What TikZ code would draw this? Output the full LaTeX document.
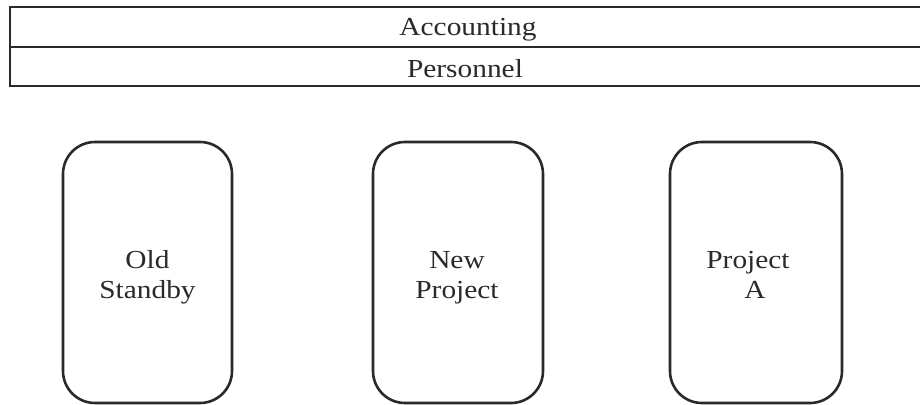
\documentclass[tikz,border=0pt]{standalone}
\usepackage{fontspec}
\setmainfont{Liberation Serif}
\newfontfamily\lblfont[FakeStretch=1.13]{Liberation Serif}
\definecolor{ink}{HTML}{2A2A2A}
\begin{document}
\begin{tikzpicture}[x=1bp,y=-1bp,
  bar/.style={draw=ink, line width=2.6bp},
  unit/.style={draw=ink, line width=2.6bp, rounded corners=32bp,
    minimum width=#1, minimum height=261bp, inner sep=0pt},
  lbl/.style={text=ink, font=\lblfont\fontsize{26bp}{30bp}\selectfont,
    align=center, inner sep=0pt}]
  \clip (0,0) rectangle (920,404);
  \fill[white] (0,0) rectangle (920,404);

  % shared service bands across the top
  \draw[bar] (10,7) rectangle (925,47);
  \draw[bar] (10,47) rectangle (925,86);
  \node[lbl] (acc) at (468,30) {Accounting};
  \node[lbl] (per) at (465,69) {Personnel};

  % project units
  \node[unit=169bp] (old) at (147.5,272.5) {};
  \node[unit=170bp] (new) at (458,272.5) {};
  \node[unit=172bp] (pa)  at (756,272.5) {};

  \node[lbl] (oldt) at ([yshift=-5bp]old.center) {Old\\Standby};
  \node[lbl] (newt) at ([xshift=-1bp,yshift=-5bp]new.center) {New\\Project};
  \node[lbl] (pat)  at ([xshift=-8bp,yshift=-2bp]pa.center) {Project\\\hspace*{14bp}A};
\end{tikzpicture}
\end{document}
